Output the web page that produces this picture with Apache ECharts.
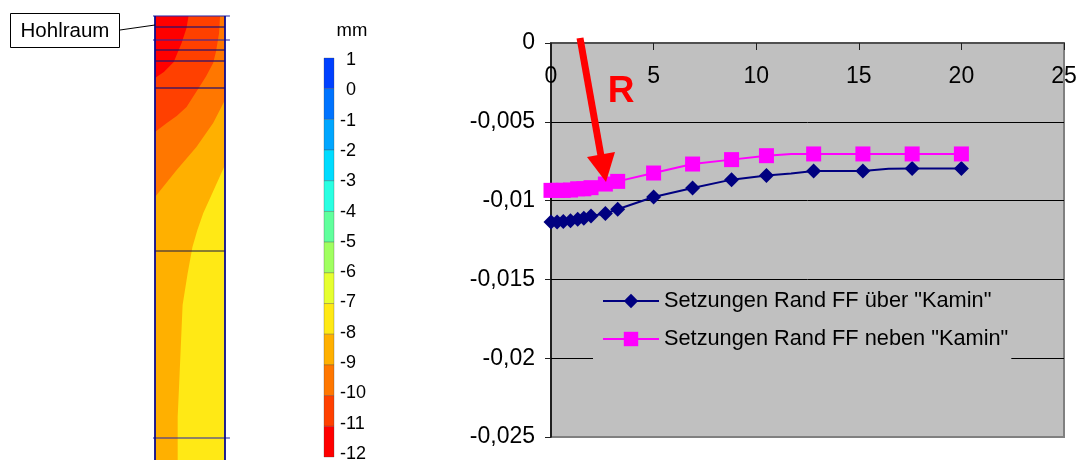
<!DOCTYPE html>
<html>
<head>
<meta charset="utf-8">
<style>
  html, body { margin: 0; padding: 0; background: #fff; }
  #chart { width: 1077px; height: 460px; }
</style>
<script src="https://cdn.jsdelivr.net/npm/echarts@6/dist/echarts.min.js"></script>
</head>
<body>
<div id="chart"></div>
<script>
// settlement curves, distance vs. settlement; noMarker = kink without symbol
var ueberX = [0, 0.3, 0.6, 0.95, 1.3, 1.6, 1.95, 2.65, 3.25, 5, 6.9, 8.8, 10.5, 11.7, 12.8, 15.2, 16.45, 17.6, 20];
var ueberY = [-0.01135, -0.01135, -0.01132, -0.01128, -0.01118, -0.01112, -0.01098, -0.01082, -0.01055, -0.00977, -0.0092, -0.00867, -0.0084, -0.00828, -0.00812, -0.00812, -0.00798, -0.00797, -0.00797];
var ueberNoMarker = [11.7, 16.45];

var nebenX = [0, 0.3, 0.6, 0.95, 1.3, 1.6, 1.95, 2.65, 3.25, 5, 6.9, 8.8, 10.5, 11.7, 12.8, 15.2, 17.6, 20];
var nebenY = [-0.00935, -0.00935, -0.00935, -0.00933, -0.00925, -0.00925, -0.00918, -0.00895, -0.00878, -0.00825, -0.00768, -0.0074, -0.00715, -0.00704, -0.00704, -0.00704, -0.00704, -0.00704];
var nebenNoMarker = [11.7];

var serieUeber = 'Setzungen Rand FF über "Kamin"';
var serieNeben = 'Setzungen Rand FF neben "Kamin"';

// colour scale of the contour plot, from 1 down to -12 mm
var skalaWerte = [1, 0, -1, -2, -3, -4, -5, -6, -7, -8, -9, -10, -11, -12];
var skalaFarben = ['#0040ff', '#0073ff', '#00a6ff', '#00dcff', '#2affe2', '#60ff9c', '#a0ff60', '#e6ff30', '#ffe915', '#ffb000', '#ff7700', '#ff4000', '#ff0000'];

// contour boundaries, [width, depth] in the section's own units
var randBreite = 71;
var randTiefe = 444;
var grenze8 = [[71, 149], [55, 184], [49, 197], [43, 214], [38, 231], [33, 258], [28, 289], [25, 357], [23, 401], [23, 444]];
var grenze9 = [[71, 84], [59, 107], [42, 131], [22, 154], [0, 181]];
var grenze10 = [[66, 0], [65, 17], [62, 35], [59, 47], [52, 60], [45, 71], [32, 91], [22, 100], [12, 107], [0, 116]];
var grenze11 = [[34, 0], [32, 12], [27, 27], [19, 46], [9, 56], [0, 62]];

// element layers drawn over the section: depth, overhang left, overhang right
var schichten = [[0, 2, 5], [11, 0, 0], [24, 2, 5], [34, 0, 0], [45, 0, 0], [72, 0, 0], [235, 0, 0], [422, 2, 5]];

function kurve(xs, ys, ohneMarker) {
  return xs.map(function (x, i) {
    var punkt = { value: [x, ys[i]] };
    if (ohneMarker.indexOf(x) >= 0) punkt.symbol = 'none';
    return punkt;
  });
}

function zeichneKontur(params, api) {
  var c = function (p) { return api.coord(p); };
  var flaeche = function (punkte, farbe) {
    return { type: 'polygon', shape: { points: punkte.map(c) }, style: { fill: farbe } };
  };
  var kinder = [
    // yellow rest, then each band on top reaching up to the section's top
    flaeche([[0, 0], [randBreite, 0], [randBreite, randTiefe], [0, randTiefe]], skalaFarben[8]),
    flaeche([[0, 0], [randBreite, 0]].concat(grenze8, [[0, randTiefe]]), skalaFarben[9]),
    flaeche([[0, 0], [randBreite, 0]].concat(grenze9), skalaFarben[10]),
    flaeche([[0, 0]].concat(grenze10), skalaFarben[11]),
    flaeche([[0, 0]].concat(grenze11), skalaFarben[12])
  ];
  var skala = api.coord([1, 0])[0] - api.coord([0, 0])[0];
  schichten.forEach(function (s) {
    var links = c([0, s[0]]);
    var rechts = c([randBreite, s[0]]);
    var breit = s[1] > 0;
    kinder.push({
      type: 'line',
      shape: { x1: links[0] - s[1] * skala, y1: links[1], x2: rechts[0] + s[2] * skala, y2: rechts[1] },
      style: { stroke: s[0] === 235 ? '#14144a' : (breit ? 'rgba(40,40,170,0.7)' : 'rgba(40,20,110,0.85)'), lineWidth: s[0] === 235 ? 1 : 1.6 }
    });
  });
  [0, randBreite].forEach(function (b) {
    var o = c([b, 0]);
    var u = c([b, randTiefe]);
    kinder.push({
      type: 'line',
      shape: { x1: o[0], y1: o[1], x2: u[0], y2: u[1] },
      style: { stroke: '#0c0c90', lineWidth: 1.8 }
    });
  });
  return { type: 'group', children: kinder };
}

function zeichneSkala(params, api) {
  var oben = api.coord([0, api.value(0)]);
  var unten = api.coord([1, api.value(1)]);
  return {
    type: 'rect',
    shape: { x: oben[0], y: oben[1], width: unten[0] - oben[0], height: unten[1] - oben[1] },
    style: { fill: skalaFarben[params.dataIndex], stroke: 'rgba(60,60,60,0.4)', lineWidth: 0.7 }
  };
}

var skalaDaten = skalaFarben.map(function (f, i) { return [skalaWerte[i], skalaWerte[i + 1]]; });

var schrift = 'Liberation Sans, Arial, sans-serif';

var chart = echarts.init(document.getElementById('chart'), null, { renderer: 'canvas' });
chart.setOption({
  animation: false,
  backgroundColor: '#fff',
  textStyle: { fontFamily: schrift, color: '#000' },
  grid: [
    { left: 551, top: 43, width: 513, height: 394, show: true, backgroundColor: '#c0c0c0', borderColor: '#808080', borderWidth: 2, outerBoundsMode: 'none' },
    { left: 155, top: 16, width: 70, height: 444, outerBoundsMode: 'none' },
    { left: 324, top: 58, width: 10, height: 399, outerBoundsMode: 'none' },
    // the scale's labels sit a little tighter than its bands
    { left: 324, top: 60, width: 10, height: 394, outerBoundsMode: 'none' }
  ],
  xAxis: [
    {
      gridIndex: 0, type: 'value', position: 'top', min: 0, max: 25, interval: 5,
      axisLine: { show: true, onZero: false, lineStyle: { color: '#404040', width: 1.5 } },
      axisTick: { show: true, inside: true, length: 7, lineStyle: { color: '#202020' } },
      axisLabel: { inside: true, margin: 22, color: '#000', fontSize: 23, fontFamily: schrift, showMinLabel: true, showMaxLabel: true, hideOverlap: false },
      splitLine: { show: false }
    },
    { gridIndex: 1, type: 'value', min: 0, max: randBreite, show: false },
    { gridIndex: 2, type: 'value', min: 0, max: 1, show: false },
    { gridIndex: 3, type: 'value', min: 0, max: 1, show: false }
  ],
  yAxis: [
    {
      gridIndex: 0, type: 'value', min: -0.025, max: 0, interval: 0.005,
      axisLine: { show: true, onZero: false, lineStyle: { color: '#000', width: 1.5 } },
      axisTick: { show: true, length: 6, lineStyle: { color: '#202020' } },
      axisLabel: {
        margin: 16, color: '#000', fontSize: 23, fontFamily: schrift, padding: [5, 0, 0, 0],
        formatter: function (v) { return String(v).replace('.', ','); }
      },
      splitLine: { show: true, showMinLine: false, showMaxLine: false, lineStyle: { color: '#000', width: 1 } }
    },
    { gridIndex: 1, type: 'value', min: 0, max: randTiefe, inverse: true, show: false },
    { gridIndex: 2, type: 'value', min: -12, max: 1, interval: 1, show: false },
    {
      gridIndex: 3, type: 'value', min: -12, max: 1, interval: 1, position: 'right',
      axisLine: { show: false }, axisTick: { show: false }, splitLine: { show: false },
      axisLabel: {
        margin: 6, color: '#000', fontSize: 18, fontFamily: schrift, align: 'left',
        formatter: function (v) { return v >= 0 ? '{p|' + v + '}' : String(v); },
        rich: { p: { padding: [0, 0, 0, 6], fontSize: 18, fontFamily: schrift, color: '#000' } }
      }
    }
  ],
  legend: {
    orient: 'vertical', left: 593, top: 282,
    backgroundColor: '#c0c0c0', padding: [8, 3, 10, 9], itemWidth: 56, itemHeight: 18, itemGap: 16,
    textStyle: { color: '#000', fontSize: 21.75, fontFamily: schrift, padding: [0, 0, 0, 0] },
    data: [serieUeber, serieNeben]
  },
  series: [
    {
      name: serieUeber, type: 'line', xAxisIndex: 0, yAxisIndex: 0,
      data: kurve(ueberX, ueberY, ueberNoMarker),
      symbol: 'diamond', symbolSize: 15, showAllSymbol: true,
      itemStyle: { color: '#000080' }, lineStyle: { color: '#000080', width: 2 }, z: 3
    },
    {
      name: serieNeben, type: 'line', xAxisIndex: 0, yAxisIndex: 0,
      data: kurve(nebenX, nebenY, nebenNoMarker),
      symbol: 'rect', symbolSize: 15, showAllSymbol: true,
      itemStyle: { color: '#ff00ff' }, lineStyle: { color: '#ff00ff', width: 2 }, z: 4
    },
    {
      type: 'custom', xAxisIndex: 1, yAxisIndex: 1, clip: false, silent: true,
      renderItem: zeichneKontur, data: [[0, 0]]
    },
    {
      type: 'custom', xAxisIndex: 2, yAxisIndex: 2, silent: true,
      renderItem: zeichneSkala, data: skalaDaten, encode: { y: [0, 1] }
    }
  ],
  graphic: [
    { type: 'rect', z: 20, shape: { x: 10.5, y: 13.5, width: 109, height: 34 }, style: { fill: '#fff', stroke: '#000', lineWidth: 1 } },
    { type: 'text', z: 21, x: 65, y: 31, style: { text: 'Hohlraum', font: '20.5px ' + schrift, fill: '#000', textAlign: 'center', textVerticalAlign: 'middle' } },
    { type: 'line', z: 20, shape: { x1: 120, y1: 30, x2: 155, y2: 25 }, style: { stroke: '#000', lineWidth: 1 } },
    { type: 'text', z: 21, x: 352, y: 31, style: { text: 'mm', font: '18.5px ' + schrift, fill: '#000', textAlign: 'center', textVerticalAlign: 'middle' } },
    { type: 'text', z: 21, x: 621, y: 92, style: { text: 'R', font: 'bold 37px ' + schrift, fill: '#ff0000', textAlign: 'center', textVerticalAlign: 'middle' } },
    { type: 'line', z: 21, shape: { x1: 580, y1: 38, x2: 601, y2: 156 }, style: { stroke: '#ff0000', lineWidth: 7 } },
    { type: 'polygon', z: 21, shape: { points: [[587, 157], [615, 152], [606, 182]] }, style: { fill: '#ff0000' } }
  ]
});
</script>
</body>
</html>
